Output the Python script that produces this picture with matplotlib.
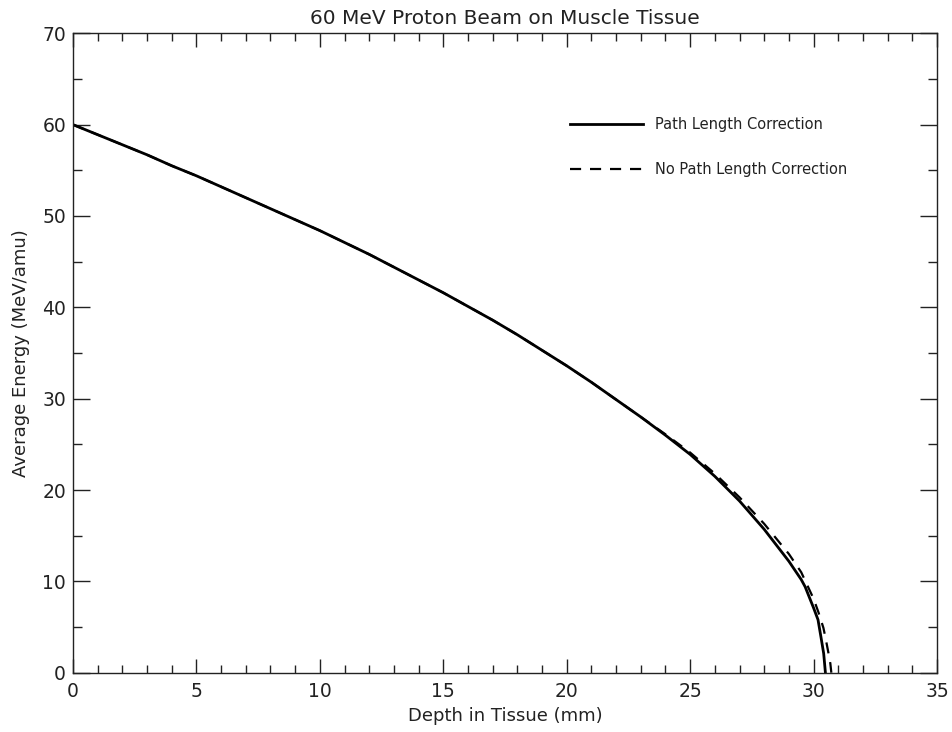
import matplotlib
matplotlib.use("Agg")
import matplotlib.pyplot as plt
from matplotlib.ticker import MultipleLocator

# depth (mm) and average energy (MeV/amu)
depth_pl = [0, 1, 2, 3, 4, 5, 6, 7, 8, 9, 10, 11, 12, 13, 14, 15, 16, 17, 18,
            19, 20, 21, 22, 23, 24, 25, 26, 27, 28, 29, 29.5, 29.66, 30, 30.18,
            30.3, 30.41, 30.48]
energy_pl = [60.0, 58.9, 57.8, 56.7, 55.5, 54.4, 53.2, 52.0, 50.8, 49.6, 48.4,
             47.1, 45.8, 44.4, 43.0, 41.6, 40.1, 38.6, 37.0, 35.3, 33.6, 31.8,
             29.9, 28.0, 26.0, 23.9, 21.5, 18.8, 15.7, 12.2, 10.2, 9.4, 7.1,
             5.8, 3.9, 2.1, 0.0]

depth_nopl = [0, 1, 2, 3, 4, 5, 6, 7, 8, 9, 10, 11, 12, 13, 14, 15, 16, 17, 18,
              19, 20, 21, 22, 23, 24, 25, 26, 27, 28, 29, 29.5, 30, 30.2, 30.4,
              30.5, 30.6, 30.68, 30.72]
energy_nopl = [60.0, 58.9, 57.8, 56.7, 55.5, 54.4, 53.2, 52.0, 50.8, 49.6, 48.4,
               47.1, 45.8, 44.4, 43.0, 41.6, 40.1, 38.6, 37.0, 35.3, 33.6, 31.8,
               29.9, 28.0, 26.1, 24.1, 21.8, 19.2, 16.3, 13.0, 11.0, 8.1, 6.6,
               4.9, 3.6, 2.2, 1.0, 0.0]

labels = ["Path Length Correction", "No Path Length Correction"]

fig = plt.figure(figsize=(9.53, 7.32), dpi=100)
ax = fig.add_axes([0.0766, 0.081, 0.9066, 0.8735])

ax.plot(depth_pl, energy_pl, color="black", lw=2.0, label=labels[0])
ax.plot(depth_nopl, energy_nopl, color="black", lw=1.6, dashes=(5, 4),
        label=labels[1])

ax.set_xlim(0, 35)
ax.set_ylim(0, 70)
ax.xaxis.set_major_locator(MultipleLocator(5))
ax.xaxis.set_minor_locator(MultipleLocator(1))
ax.yaxis.set_major_locator(MultipleLocator(10))
ax.yaxis.set_minor_locator(MultipleLocator(5))

ax.tick_params(which="both", direction="in", top=True, right=True,
               color="#222222", width=1.0, labelcolor="#222222", labelsize=13.5)
ax.tick_params(axis="x", which="major", length=10, pad=7)
ax.tick_params(axis="x", which="minor", length=5.5)
ax.tick_params(axis="y", which="major", length=12, pad=5)
ax.tick_params(axis="y", which="minor", length=6.3)
for s in ax.spines.values():
    s.set_linewidth(1.0)
    s.set_color("#222222")

ax.set_title("60 MeV Proton Beam on Muscle Tissue", fontsize=14.5,
             color="#222222", pad=7)
ax.set_xlabel("Depth in Tissue (mm)", fontsize=13, color="#222222",
              labelpad=4)
ax.set_ylabel("Average Energy (MeV/amu)", fontsize=13, color="#222222",
              labelpad=9)

leg = ax.legend(loc="upper left", bbox_to_anchor=(0.56, 0.89), frameon=False,
                fontsize=10.5, handlelength=5.0, handletextpad=0.8,
                labelspacing=2.1)
for t in leg.get_texts():
    t.set_color("#222222")

fig.savefig("out.png", dpi=100)
